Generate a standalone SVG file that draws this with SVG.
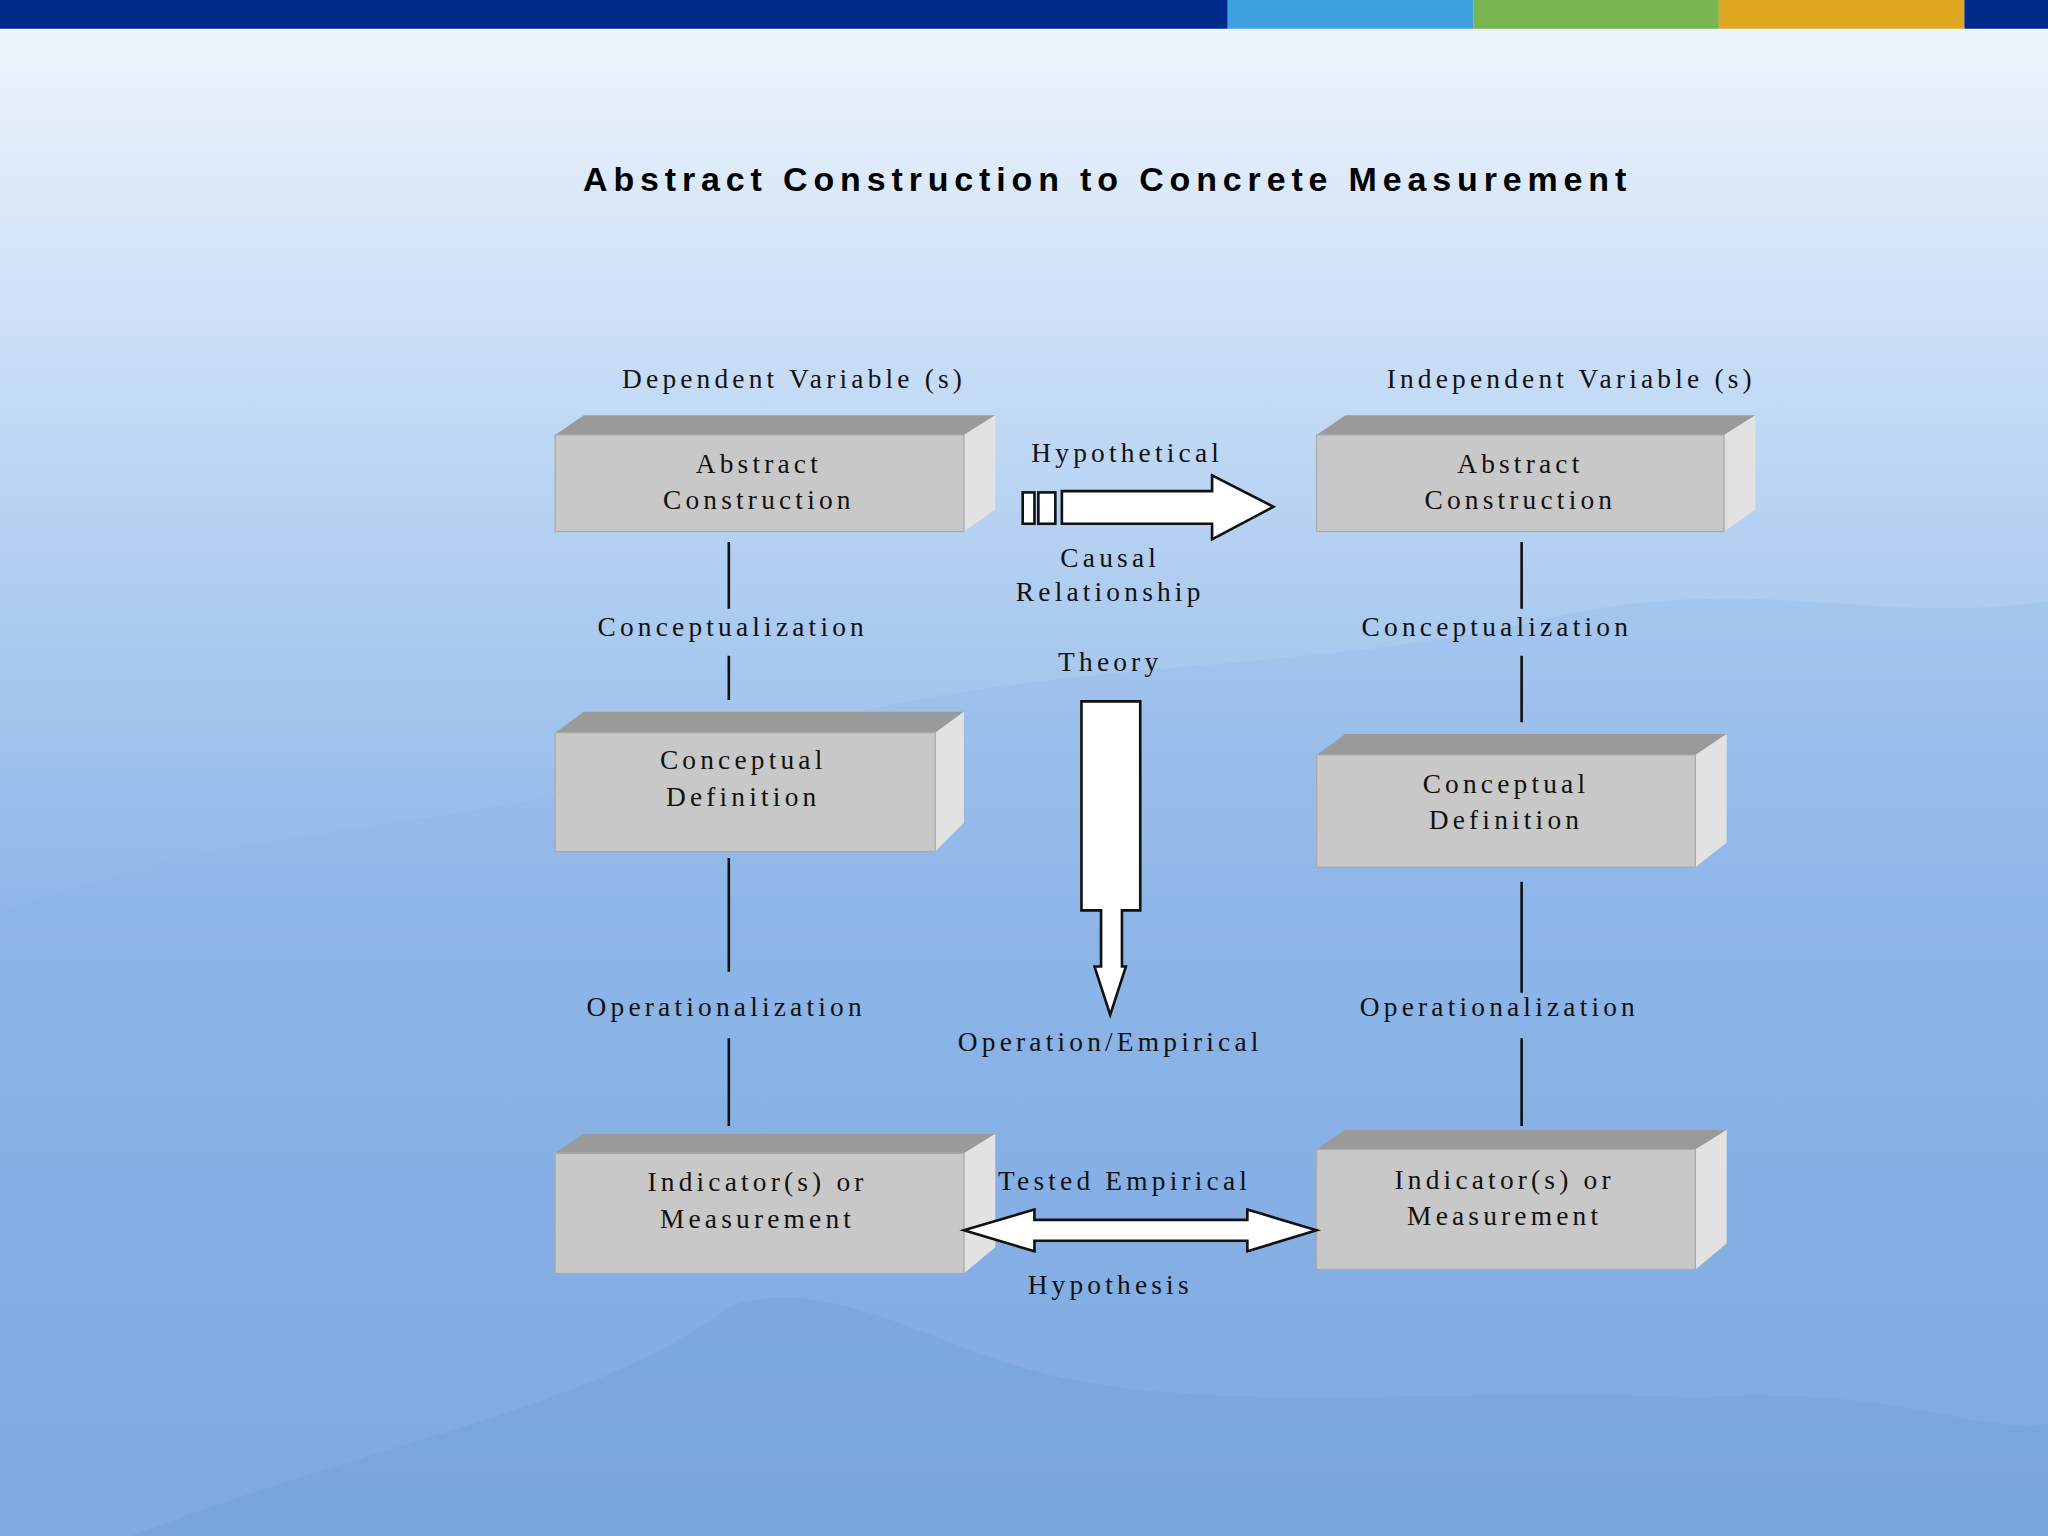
<svg xmlns="http://www.w3.org/2000/svg" width="2048" height="1536" viewBox="0 0 2048 1536">
<defs>
<linearGradient id="bg" x1="0" y1="0" x2="0" y2="1">
<stop offset="0" stop-color="#F2F6FD"/><stop offset="0.3" stop-color="#BCD6F4"/><stop offset="0.6" stop-color="#8DB6E8"/><stop offset="1" stop-color="#7AA6E0"/>
</linearGradient>
<style>
.t{font-family:"Liberation Serif",serif;font-size:21px;letter-spacing:3.2px;fill:#111;text-anchor:middle}
.f{fill:#C8C8C8;stroke:#AAA;stroke-width:1}
.tp{fill:#9A9A9A}
.sd{fill:#E2E2E2}
.ln{stroke:#111;stroke-width:2}
.ar{fill:#fff;stroke:#111;stroke-width:2}
</style>
</defs>
<g transform="scale(1.30612)">
<rect width="1568" height="1176" fill="url(#bg)"/>
<path d="M0 700 C200 620 400 640 600 560 C800 500 1000 520 1200 470 C1350 440 1450 480 1568 460 L1568 1176 L0 1176Z" fill="#8CB2E6" opacity="0.25"/>
<path d="M100 1176 C300 1100 450 1080 560 1000 C620 980 680 1010 760 1040 C900 1090 1100 1060 1300 1070 C1450 1060 1520 1100 1568 1090 L1568 1176Z" fill="#6F9DD8" opacity="0.35"/>
<rect x="0" y="0" width="940" height="22" fill="#002A8A"/>
<rect x="940" y="0" width="188" height="22" fill="#3FA0E0"/>
<rect x="1128" y="0" width="188" height="22" fill="#78B450"/>
<rect x="1316" y="0" width="188" height="22" fill="#E0A820"/>
<rect x="1504" y="0" width="64" height="22" fill="#002A8A"/>
<text x="848" y="146" style="font-family:'Liberation Sans',sans-serif;font-size:26px;font-weight:bold;letter-spacing:4.5px;text-anchor:middle;fill:#000">Abstract Construction to Concrete Measurement</text>
<g id="texts">
<text class="t" x="608" y="297">Dependent Variable (s)</text>
<text class="t" x="1203" y="297">Independent Variable (s)</text>
<text class="t" x="561" y="487">Conceptualization</text>
<text class="t" x="1146" y="487">Conceptualization</text>
<text class="t" x="556" y="778">Operationalization</text>
<text class="t" x="1148" y="778">Operationalization</text>
<text class="t" x="863" y="354">Hypothetical</text>
<text class="t" x="850" y="434">Causal</text>
<text class="t" x="850" y="460">Relationship</text>
<text class="t" x="850" y="514">Theory</text>
<text class="t" x="850" y="805">Operation/Empirical</text>
<text class="t" x="861" y="911">Tested Empirical</text>
<text class="t" x="850" y="991">Hypothesis</text>
</g>
<g id="box1"><path class="tp" d="M425 333 L447 318 L762 318 L738 333Z"/><path class="sd" d="M738 333 L762 318 L762 390 L738 407Z"/><rect class="f" x="425" y="333" width="313" height="74"/><text class="t" x="581" y="362">Abstract</text><text class="t" x="581" y="390">Construction</text></g>
<g id="box2"><path class="tp" d="M425 561 L447 545 L738 545 L716 561Z"/><path class="sd" d="M716 561 L738 545 L738 630 L716 652Z"/><rect class="f" x="425" y="561" width="291" height="91"/><text class="t" x="569" y="589">Conceptual</text><text class="t" x="569" y="617">Definition</text></g>
<g id="box3"><path class="tp" d="M425 883 L447 868 L762 868 L738 883Z"/><path class="sd" d="M738 883 L762 868 L762 955 L738 975Z"/><rect class="f" x="425" y="883" width="313" height="92"/><text class="t" x="580" y="912">Indicator(s) or</text><text class="t" x="580" y="940">Measurement</text></g>
<g id="box4"><path class="tp" d="M1008 333 L1030 318 L1344 318 L1320 333Z"/><path class="sd" d="M1320 333 L1344 318 L1344 390 L1320 407Z"/><rect class="f" x="1008" y="333" width="312" height="74"/><text class="t" x="1164" y="362">Abstract</text><text class="t" x="1164" y="390">Construction</text></g>
<g id="box5"><path class="tp" d="M1008 578 L1030 562 L1322 562 L1298 578Z"/><path class="sd" d="M1298 578 L1322 562 L1322 645 L1298 664Z"/><rect class="f" x="1008" y="578" width="290" height="86"/><text class="t" x="1153" y="607">Conceptual</text><text class="t" x="1153" y="635">Definition</text></g>
<g id="box6"><path class="tp" d="M1008 880 L1030 865 L1322 865 L1298 880Z"/><path class="sd" d="M1298 880 L1322 865 L1322 952 L1298 972Z"/><rect class="f" x="1008" y="880" width="290" height="92"/><text class="t" x="1152" y="910">Indicator(s) or</text><text class="t" x="1152" y="938">Measurement</text></g>
<g id="connectors">
<path class="ln" d="M558 415V466M558 502V536M558 657V744M558 795V862M1165 415V466M1165 502V553M1165 675V760M1165 795V862"/>
<rect class="ar" x="783" y="377" width="9" height="24"/><rect class="ar" x="795" y="377" width="13" height="24"/>
<path class="ar" d="M813 376 H928 V364 L975 388 L928 413 V401 H813Z"/>
<path class="ar" d="M828 537 H873 V697 H859 V740 H862 L850 777 L838 740 H843 V697 H828Z"/>
<path class="ar" d="M738 942 L792 926 V934 H955 V926 L1008 942 L955 958 V950 H792 V958Z"/>
</g>
</g>
</svg>
